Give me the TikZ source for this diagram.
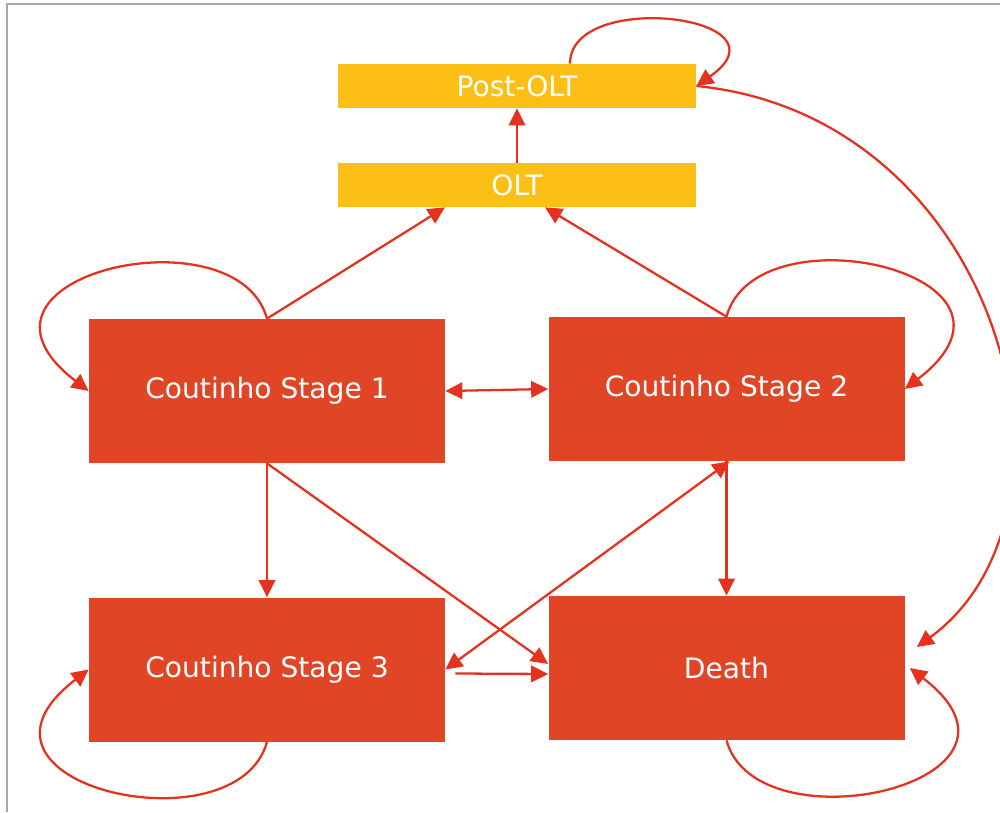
\documentclass[tikz,border=0pt]{standalone}
\usepackage{fontspec}
\setmainfont{DejaVu Sans}
\usetikzlibrary{arrows.meta}

\definecolor{stagered}{HTML}{E04626}
\definecolor{oltyellow}{HTML}{FBBF16}
\definecolor{arrowred}{HTML}{E5321F}
\definecolor{framegray}{HTML}{A8A8A8}

\tikzset{
  head/.tip = {Triangle[length = 3.4mm, width = 3.3mm]},
  stagebox/.style = {fill = stagered, text = white, inner sep = 0pt,
    minimum width = 7.12cm, minimum height = 2.88cm,
    font = \fontsize{16}{19}\selectfont},
  oltbar/.style = {fill = oltyellow, text = white, inner sep = 0pt,
    minimum width = 7.16cm, minimum height = 0.88cm,
    font = \fontsize{16}{19}\selectfont},
  arr/.style = {draw = arrowred, line width = 1.3pt, -head},
  twoway/.style = {draw = arrowred, line width = 1.3pt, head-head},
}

\begin{document}
\begin{tikzpicture}
    \useasboundingbox (0, 0) rectangle (20, 16.24);
    \draw [framegray, line width = 1.5pt] (0.14, 0) -- (0.14, 16.16) -- (20, 16.16);

    \node [oltbar] (post) at (10.34, 14.52) {Post-OLT};
    \node [oltbar] (olt) at (10.34, 12.54) {OLT};
    \node [stagebox] (s1) at (5.34, 8.42) {Coutinho Stage 1};
    \node [stagebox] (s2) at (14.53, 8.46) {Coutinho Stage 2};
    \node [stagebox] (s3) at (5.34, 2.85) {Coutinho Stage 3};
    \node [stagebox] (death) at (14.53, 2.88) {Death};

    % transplant
    \draw [arr] (olt.north) -- (post.south);
    \draw [arr] (s1.north) -- ([xshift = -1.44cm]olt.south);
    \draw [arr] (s2.north) -- ([xshift = 0.56cm]olt.south);

    % between stages
    \draw [twoway] (s1.east) -- (s2.west);
    \draw [arr] (s1.south) -- (s3.north);
    \draw [arr] (s2.south) -- (death.north);
    \draw [arr] (s1.south) -- ([yshift = 0.08cm]death.west);
    \draw [twoway] (s3.east) -- ([xshift = 0.06cm]s2.south);
    \draw [arr] ([xshift = 0.2cm, yshift = -0.08cm]s3.east) -- ([yshift = -0.12cm]death.west);

    % staying in the same state
    \draw [arr] ([xshift = 1.06cm]post.north) .. controls +(0, 1.5) and +(2.0, 1.4) .. (post.east);
    \draw [arr] (s1.north) .. controls +(-0.6, 2.2) and +(-3.0, 2.3) .. (s1.west);
    \draw [arr] (s2.north) .. controls +(0.6, 2.2) and +(3.0, 2.3) .. (s2.east);
    \draw [arr] (s3.south) .. controls +(-0.6, -2.2) and +(-3.0, -2.3) .. (s3.west);
    \draw [arr] (death.south) .. controls +(0.6, -2.2) and +(3.0, -2.3) .. ([xshift = 0.1cm]death.east);

    % after the graft
    \draw [arr] (post.east) .. controls +(6.1, -0.6) and +(3.7, 2.7) .. ([xshift = 0.24cm, yshift = 0.42cm]death.east);
\end{tikzpicture}
\end{document}
